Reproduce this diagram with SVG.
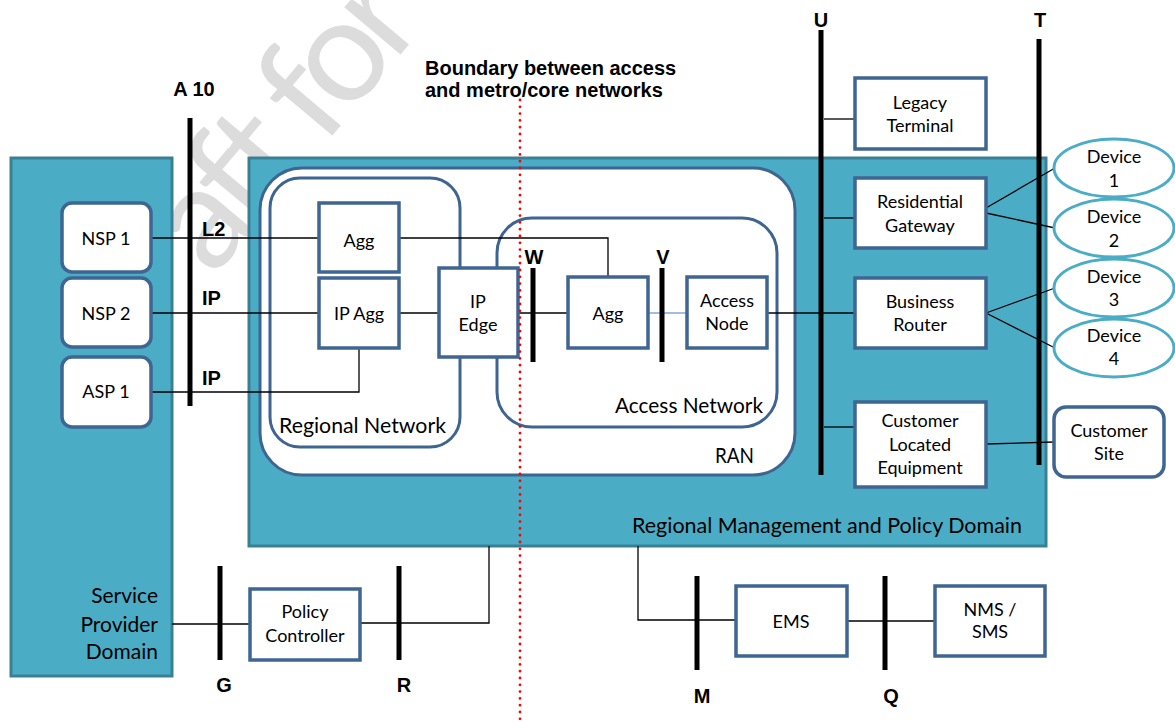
<svg xmlns="http://www.w3.org/2000/svg" width="1175" height="724" viewBox="0 0 1175 724">
<style>
.dom{fill:#4BACC6;stroke:#3A8095;stroke-width:3}
.cont{fill:#fff;stroke:#3E6491;stroke-width:3}
.box{fill:#fff;stroke:#3F6593;stroke-width:3.5}
.dev{fill:#fff;stroke:#4BACC6;stroke-width:3}
.ln{stroke:#000;stroke-width:1.3;fill:none}
.bar{stroke:#000;stroke-width:5}
.t{font-family:Lato,"Open Sans",sans-serif;font-size:18px;fill:#000;text-anchor:middle}
.big{font-family:Lato,"Open Sans",sans-serif;font-size:21px;fill:#000}
.lbl{font-family:"Liberation Sans",Arial,sans-serif;font-weight:bold;font-size:20px;fill:#000}
.wm{font-family:Lato,"Open Sans",sans-serif;font-size:145px;letter-spacing:-10px;fill:#DCDCDC}
</style>
<rect width="1175" height="724" fill="#fff"/>
<text class="wm" transform="translate(213,278) rotate(-50)">aft for</text>

<g id="service-provider-domain">
<rect class="dom" x="11" y="158" width="161" height="518"/>
<text class="big" text-anchor="end"><tspan x="158" y="603">Service</tspan><tspan x="158" y="632">Provider</tspan><tspan x="158" y="659">Domain</tspan></text>
</g>
<g id="regional-domain">
<rect class="dom" x="249" y="158" width="797" height="388"/>
<text class="big" x="632" y="533" textLength="390" lengthAdjust="spacingAndGlyphs">Regional Management and Policy Domain</text>
</g>
<g id="ran">
<rect class="cont" x="260" y="168" width="535" height="307" rx="42"/>
<text class="big" x="715" y="463" textLength="39" lengthAdjust="spacingAndGlyphs">RAN</text>
</g>
<g id="regional-network">
<rect class="cont" x="270" y="178" width="190" height="269" rx="30"/>
<text class="big" x="279" y="433" textLength="167" lengthAdjust="spacingAndGlyphs">Regional Network</text>
</g>
<g id="access-network">
<rect class="cont" x="497" y="218" width="280" height="209" rx="35"/>
<text class="big" x="615" y="413" textLength="148" lengthAdjust="spacingAndGlyphs">Access Network</text>
</g>

<g id="connectors">
<path class="ln" d="M151 238H319"/>
<path class="ln" d="M151 313H319"/>
<path class="ln" d="M151 392H359V348"/>
<path class="ln" d="M399 238H608V277"/>
<path class="ln" d="M399 313H439"/>
<path class="ln" d="M518 313H568"/>
<path d="M648 313H687" stroke="#7FA8D8" stroke-width="1.5"/>
<path class="ln" d="M767 313H855"/>
<path class="ln" d="M824 119H855"/>
<path class="ln" d="M824 218H855"/>
<path class="ln" d="M824 427H855"/>
<path class="ln" d="M986 208L1055 168"/>
<path class="ln" d="M986 213L1055 228"/>
<path class="ln" d="M986 313L1055 288"/>
<path class="ln" d="M986 313L1055 348"/>
<path class="ln" d="M986 444L1054 442"/>
<path class="ln" d="M172 624H250"/>
<path class="ln" d="M360 623H489V546"/>
<path class="ln" d="M638 546V620H736"/>
<path class="ln" d="M847 621H935"/>
</g>

<g id="nsp1"><rect class="box" x="62" y="203" width="89" height="69" rx="10"/><text class="t" x="106" y="245">NSP 1</text></g>
<g id="nsp2"><rect class="box" x="62" y="278" width="89" height="69" rx="10"/><text class="t" x="106" y="320">NSP 2</text></g>
<g id="asp1"><rect class="box" x="62" y="357" width="89" height="70" rx="10"/><text class="t" x="106" y="398">ASP 1</text></g>
<g id="agg-regional"><rect class="box" x="319" y="203" width="80" height="69"/><text class="t" x="359" y="247">Agg</text></g>
<g id="ip-agg"><rect class="box" x="319" y="278" width="80" height="70"/><text class="t" x="359" y="320">IP Agg</text></g>
<g id="ip-edge"><rect class="box" x="439" y="268" width="79" height="89"/><text class="t"><tspan x="478" y="308">IP</tspan><tspan x="478" y="331">Edge</tspan></text></g>
<g id="agg-access"><rect class="box" x="568" y="277" width="80" height="71"/><text class="t" x="608" y="320">Agg</text></g>
<g id="access-node"><rect class="box" x="687" y="277" width="80" height="71"/><text class="t"><tspan x="727" y="307">Access</tspan><tspan x="727" y="330">Node</tspan></text></g>
<g id="legacy-terminal"><rect class="box" x="855" y="78" width="131" height="71"/><text class="t"><tspan x="920" y="109">Legacy</tspan><tspan x="920" y="132">Terminal</tspan></text></g>
<g id="residential-gateway"><rect class="box" x="855" y="178" width="131" height="70"/><text class="t"><tspan x="920" y="208">Residential</tspan><tspan x="920" y="232">Gateway</tspan></text></g>
<g id="business-router"><rect class="box" x="855" y="278" width="131" height="70"/><text class="t"><tspan x="920" y="308">Business</tspan><tspan x="920" y="331">Router</tspan></text></g>
<g id="customer-located-equipment"><rect class="box" x="855" y="402" width="131" height="85"/><text class="t"><tspan x="920" y="427">Customer</tspan><tspan x="920" y="451">Located</tspan><tspan x="920" y="474">Equipment</tspan></text></g>
<g id="customer-site"><rect class="box" x="1054" y="407" width="110" height="70" rx="12"/><text class="t"><tspan x="1109" y="437">Customer</tspan><tspan x="1109" y="460">Site</tspan></text></g>
<g id="device1"><ellipse class="dev" cx="1114" cy="168" rx="60" ry="29"/><text class="t"><tspan x="1114" y="163">Device</tspan><tspan x="1114" y="187">1</tspan></text></g>
<g id="device2"><ellipse class="dev" cx="1114" cy="228" rx="60" ry="29"/><text class="t"><tspan x="1114" y="223">Device</tspan><tspan x="1114" y="247">2</tspan></text></g>
<g id="device3"><ellipse class="dev" cx="1114" cy="288" rx="60" ry="29"/><text class="t"><tspan x="1114" y="283">Device</tspan><tspan x="1114" y="306">3</tspan></text></g>
<g id="device4"><ellipse class="dev" cx="1114" cy="348" rx="60" ry="29"/><text class="t"><tspan x="1114" y="342">Device</tspan><tspan x="1114" y="365">4</tspan></text></g>
<g id="policy-controller"><rect class="box" x="250" y="589" width="110" height="71"/><text class="t"><tspan x="305" y="618">Policy</tspan><tspan x="305" y="642">Controller</tspan></text></g>
<g id="ems"><rect class="box" x="736" y="586" width="111" height="70"/><text class="t" x="791" y="628">EMS</text></g>
<g id="nms-sms"><rect class="box" x="935" y="586" width="110" height="70"/><text class="t"><tspan x="990" y="616">NMS /</tspan><tspan x="990" y="638">SMS</tspan></text></g>

<g id="interfaces">
<path class="bar" d="M190 118V406"/>
<path class="bar" d="M533 268V362"/>
<path class="bar" d="M662 268V362"/>
<path class="bar" d="M821 30V475"/>
<path class="bar" d="M1039 39V465"/>
<path class="bar" d="M220 566V660"/>
<path class="bar" d="M399 566V660"/>
<path class="bar" d="M697 576V670"/>
<path class="bar" d="M885 576V670"/>
<text class="lbl" x="194" y="96" text-anchor="middle">A 10</text>
<text class="lbl" x="202" y="236" font-size="19">L2</text>
<text class="lbl" x="202" y="305" font-size="19">IP</text>
<text class="lbl" x="202" y="385" font-size="19">IP</text>
<text class="lbl" x="534" y="264" text-anchor="middle">W</text>
<text class="lbl" x="663" y="264" text-anchor="middle">V</text>
<text class="lbl" x="821" y="27" text-anchor="middle">U</text>
<text class="lbl" x="1040" y="27" text-anchor="middle">T</text>
<text class="lbl" x="224" y="692" text-anchor="middle">G</text>
<text class="lbl" x="404" y="692" text-anchor="middle">R</text>
<text class="lbl" x="702" y="703" text-anchor="middle">M</text>
<text class="lbl" x="891" y="703" text-anchor="middle">Q</text>
</g>

<g id="boundary">
<path d="M520 100V720" stroke="#FF0000" stroke-width="2.8" stroke-linecap="round" stroke-dasharray="0 6.8"/>
<text class="lbl"><tspan x="425" y="75">Boundary between access</tspan><tspan x="425" y="97">and metro/core networks</tspan></text>
</g>
</svg>
